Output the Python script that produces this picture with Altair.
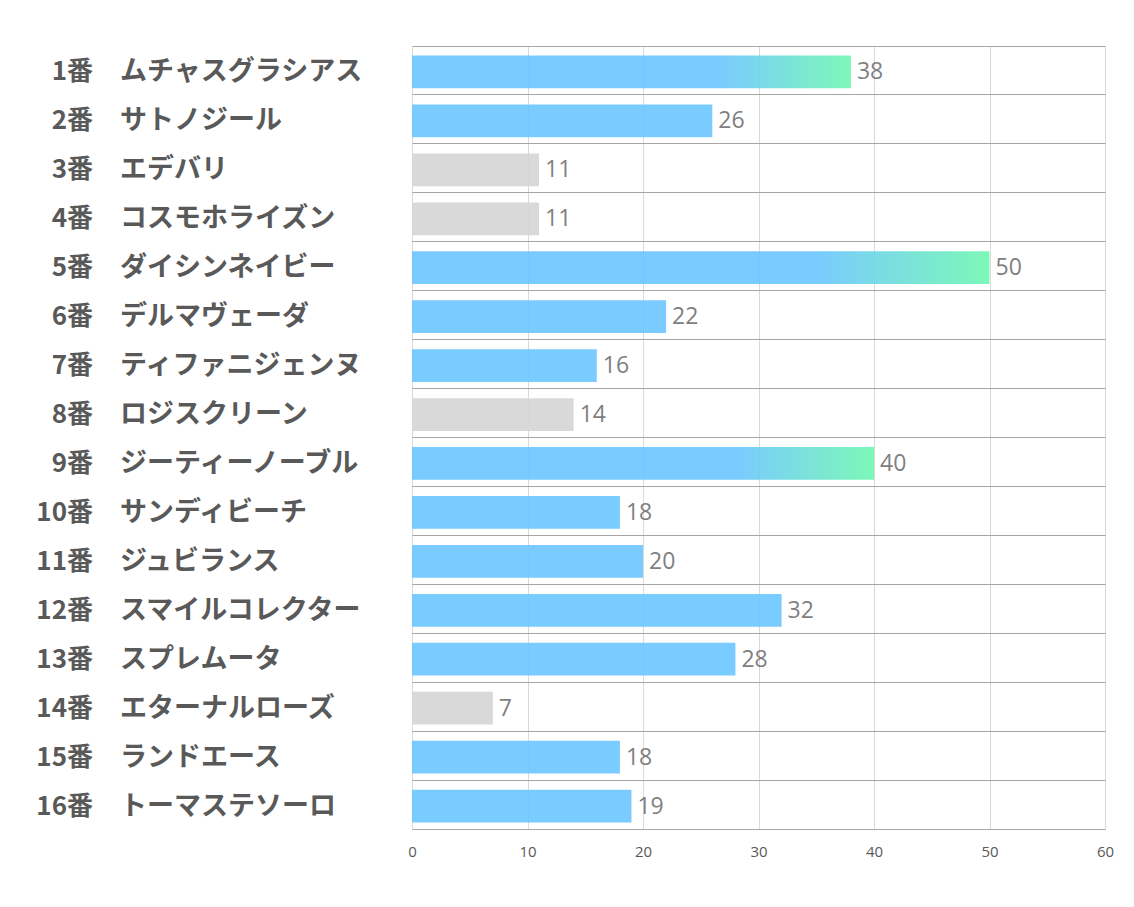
import altair as alt
import pandas as pd

nums = ["1番", "2番", "3番", "4番", "5番", "6番", "7番", "8番", "9番", "10番",
        "11番", "12番", "13番", "14番", "15番", "16番"]
names = ["ムチャスグラシアス", "サトノジール", "エデバリ", "コスモホライズン", "ダイシンネイビー",
         "デルマヴェーダ", "ティファニジェンヌ", "ロジスクリーン", "ジーティーノーブル", "サンディビーチ",
         "ジュビランス", "スマイルコレクター", "スプレムータ", "エターナルローズ", "ランドエース",
         "トーマステソーロ"]
values = [38, 26, 11, 11, 50, 22, 16, 14, 40, 18, 20, 32, 28, 7, 18, 19]
groups = ["grad", "blue", "gray", "gray", "grad", "blue", "blue", "gray", "grad", "blue",
          "blue", "blue", "blue", "gray", "blue", "blue"]

df = pd.DataFrame({"num": nums, "name": names, "value": values, "group": groups})
df["key"] = df["num"]

y_enc = alt.Y("key:N", sort=nums,
              scale=alt.Scale(paddingInner=0, paddingOuter=0),
              axis=alt.Axis(labels=False, ticks=False, domain=False, title=None,
                            grid=True, bandPosition=0, gridColor="#A6A6A6", gridWidth=1))
x_enc = alt.X("value:Q", scale=alt.Scale(domain=[0, 60], nice=False),
              axis=alt.Axis(values=[0, 10, 20, 30, 40, 50, 60], ticks=False, title=None,
                            grid=True, gridColor="#D9D9D9", domainColor="#A6A6A6",
                            labelFontSize=15, labelColor="#595959", labelFont="Open Sans",
                            labelPadding=15, labelFlush=False))

base = alt.Chart(df)

bars_plain = base.transform_filter("datum.group != 'grad'").mark_bar(
    height=alt.RelativeBandSize(0.67), fillOpacity=0.9, yOffset=1.5
).encode(
    x=x_enc, y=y_enc,
    color=alt.Color("group:N", scale=alt.Scale(domain=["blue", "gray"],
                                               range=["#6BC5FF", "#D5D5D5"]), legend=None)
)

grad = alt.Gradient(
    gradient="linear",
    stops=[alt.GradientStop(color="#6BC5FF", offset=0),
           alt.GradientStop(color="#6BC5FF", offset=0.7),
           alt.GradientStop(color="#6EF7B0", offset=1)],
    x1=0, x2=1, y1=0, y2=0,
)
bars_grad = base.transform_filter("datum.group == 'grad'").mark_bar(
    height=alt.RelativeBandSize(0.67), fillOpacity=0.9, color=grad, yOffset=1.5
).encode(x=x_enc, y=y_enc)

vals = base.mark_text(align="left", baseline="middle", dx=6, dy=2, fontSize=23,
                      font="Open Sans", color="#7F7F7F").encode(
    x=x_enc, y=y_enc, text="value:Q")

num_txt = base.mark_text(align="right", baseline="middle", dy=2, fontSize=26, fontWeight="bold",
                         font="Noto Sans CJK JP", color="#595959").encode(
    x=alt.value(-319), y=y_enc, text="num:N")
name_txt = base.mark_text(align="left", baseline="middle", dy=2, fontSize=27, fontWeight="bold",
                          font="Noto Sans CJK JP", color="#595959").encode(
    x=alt.value(-292), y=y_enc, text="name:N")

chart = alt.layer(bars_plain, bars_grad, vals, num_txt, name_txt).properties(
    width=693, height=783,
    autosize=alt.AutoSizeParams(type="none"),
    padding={"left": 412, "top": 46, "right": 29, "bottom": 78},
).configure_view(stroke=None).configure(background="white")

chart.save("out.html", embed_options={"renderer": "svg", "actions": False})
